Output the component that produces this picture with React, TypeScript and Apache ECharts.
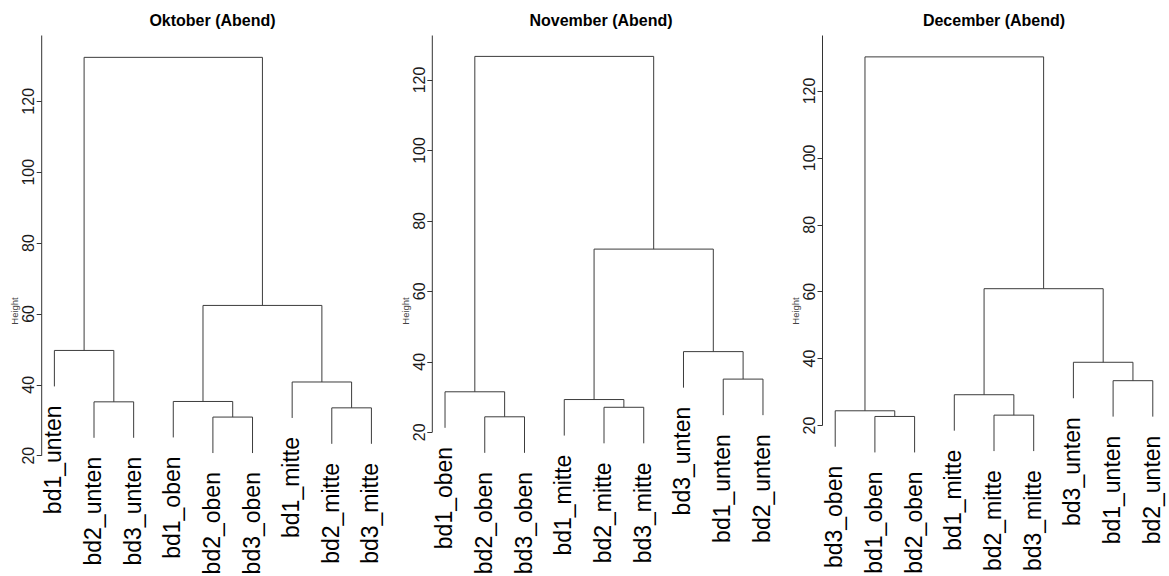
import React, { useEffect, useRef } from "react";
import * as echarts from "echarts";

// ---------- data ----------
const TITLES = ["Oktober (Abend)", "November (Abend)", "December (Abend)"];
const Y_LABEL = "Height";
const Y_MIN = 20;
const Y_MAX = 120;
const Y_STEP = 20;

// Leaf labels in plotting order
const LABELS_OKT = ["bd1_unten", "bd2_unten", "bd3_unten", "bd1_oben", "bd2_oben", "bd3_oben", "bd1_mitte", "bd2_mitte", "bd3_mitte"];
const LABELS_NOV = ["bd1_oben", "bd2_oben", "bd3_oben", "bd1_mitte", "bd2_mitte", "bd3_mitte", "bd3_unten", "bd1_unten", "bd2_unten"];
const LABELS_DEZ = ["bd3_oben", "bd1_oben", "bd2_oben", "bd1_mitte", "bd2_mitte", "bd3_mitte", "bd3_unten", "bd1_unten", "bd2_unten"];

// Merges (R hclust style): negative = leaf position (1-based), positive = earlier merge (1-based)
const MERGES_OKT = [[-5, -6], [-8, -9], [-2, -3], [-4, 1], [-7, 2], [-1, 3], [4, 5], [6, 7]];
const HEIGHTS_OKT = [30.9, 33.5, 35.2, 35.3, 40.8, 49.7, 62.4, 132.4];

const MERGES_NOV = [[-2, -3], [-5, -6], [-4, 2], [-1, 1], [-8, -9], [-7, 5], [3, 6], [4, 7]];
const HEIGHTS_NOV = [24.4, 27.1, 29.3, 31.5, 35.1, 42.9, 72.0, 126.7];

const MERGES_DEZ = [[-2, -3], [-5, -6], [-1, 1], [-4, 2], [-8, -9], [-7, 5], [4, 6], [3, 7]];
const HEIGHTS_DEZ = [22.7, 23.1, 24.4, 29.2, 33.4, 38.9, 60.9, 130.2];

// ---------- layout ----------
const PANELS = [
  { left: 41.7, width: 342.4, top: 101.3, height: 354.4, titleX: 212.5 },
  { left: 432.3, width: 343.4, top: 80, height: 352.3, titleX: 601 },
  { left: 822.5, width: 343, top: 91, height: 334.5, titleX: 994 },
];
const AXIS_TOP_PX = 35.5;
const FONT = "'Liberation Sans', Arial, Helvetica, sans-serif";
const LINE_COLOR = "#3c3c3c";

function buildTree(labels: string[], merges: number[][], heights: number[]) {
  const hang = 0.1 * (Math.max(...heights) - Math.min(...heights));
  const nodeX: number[] = [];
  const segs: number[][] = [];
  const leaves: { x: number; y: number; name: string }[] = [];
  const xOf = (c: number) => (c < 0 ? -c : nodeX[c - 1]);
  merges.forEach(([a, b], i) => {
    const h = heights[i];
    const xa = xOf(a);
    const xb = xOf(b);
    nodeX[i] = (xa + xb) / 2;
    [a, b].forEach((c) => {
      const x = xOf(c);
      const yb = c < 0 ? h - hang : heights[c - 1];
      segs.push([x, yb, x, h]);
      if (c < 0) leaves.push({ x, y: h - hang, name: labels[-c - 1] });
    });
    segs.push([xa, h, xb, h]);
  });
  return { segs, leaves };
}

const TREES = [
  buildTree(LABELS_OKT, MERGES_OKT, HEIGHTS_OKT),
  buildTree(LABELS_NOV, MERGES_NOV, HEIGHTS_NOV),
  buildTree(LABELS_DEZ, MERGES_DEZ, HEIGHTS_DEZ),
];

export default function App() {
  const ref = useRef<HTMLDivElement>(null);
  useEffect(() => {
    document.body.style.margin = "0";
    if (!ref.current) return;
    const chart = echarts.init(ref.current, null, { renderer: "svg" });
    const n = LABELS_OKT.length;
    const xMin = 1 - 0.04 * (n - 1);
    const xMax = n + 0.04 * (n - 1);

    const grid = PANELS.map((p) => ({
      left: p.left,
      top: p.top,
      width: p.width,
      height: p.height,
      containLabel: false,
      outerBoundsMode: "none",
    }));
    const xAxis = PANELS.map((_, i) => ({
      type: "value",
      gridIndex: i,
      min: xMin,
      max: xMax,
      show: false,
    }));
    const yAxis = PANELS.map((_, i) => ({
      type: "value",
      gridIndex: i,
      min: Y_MIN,
      max: Y_MAX,
      interval: Y_STEP,
      axisLine: { show: false },
      splitLine: { show: false },
      axisTick: { show: true, length: 5, lineStyle: { color: "#333", width: 1 } },
      axisLabel: {
        rotate: 90,
        fontSize: 16,
        color: "#1a1a1a",
        margin: 5,
        fontFamily: FONT,
        showMinLabel: true,
        showMaxLabel: true,
      },
    }));

    const series: any[] = [];
    TREES.forEach((tree, i) => {
      series.push({
        type: "custom",
        xAxisIndex: i,
        yAxisIndex: i,
        clip: false,
        silent: true,
        data: tree.segs,
        renderItem: (params: any, api: any) => {
          const p1 = api.coord([api.value(0), api.value(1)]);
          const p2 = api.coord([api.value(2), api.value(3)]);
          return {
            type: "line",
            shape: { x1: p1[0], y1: p1[1], x2: p2[0], y2: p2[1] },
            style: { stroke: LINE_COLOR, lineWidth: 1 },
          };
        },
      });
      // y axis line: from lowest tick to plot top
      series.push({
        type: "custom",
        xAxisIndex: i,
        yAxisIndex: i,
        clip: false,
        silent: true,
        data: [[xMin, Y_MIN]],
        renderItem: (params: any, api: any) => {
          const p = api.coord([api.value(0), api.value(1)]);
          return {
            type: "line",
            shape: { x1: p[0], y1: p[1], x2: p[0], y2: AXIS_TOP_PX },
            style: { stroke: "#333", lineWidth: 1 },
          };
        },
      });
      // leaf labels
      series.push({
        type: "custom",
        xAxisIndex: i,
        yAxisIndex: i,
        clip: false,
        silent: true,
        data: tree.leaves.map((l) => [l.x, l.y]),
        renderItem: (params: any, api: any) => {
          const p = api.coord([api.value(0), api.value(1)]);
          const leaf = tree.leaves[params.dataIndex];
          return {
            type: "text",
            x: p[0] - 1,
            y: p[1] + 19,
            rotation: Math.PI / 2,
            style: {
              text: leaf.name,
              fontSize: 23,
              fontFamily: FONT,
              fill: "#000",
              align: "right",
              verticalAlign: "middle",
              textAlign: "right",
              textVerticalAlign: "middle",
            },
          };
        },
      });
    });

    const graphic: any[] = [];
    PANELS.forEach((p, i) => {
      graphic.push({
        type: "text",
        x: p.titleX,
        y: 20.5,
        silent: true,
        style: {
          text: TITLES[i],
          fontSize: 16,
          fontWeight: "bold",
          fontFamily: FONT,
          fill: "#000",
          align: "center",
          verticalAlign: "middle",
          textAlign: "center",
          textVerticalAlign: "middle",
        },
      });
      graphic.push({
        type: "text",
        x: p.left - 27,
        y: 311,
        rotation: Math.PI / 2,
        silent: true,
        style: {
          text: Y_LABEL,
          fontSize: 9.5,
          fontFamily: FONT,
          fill: "#444",
          align: "center",
          verticalAlign: "middle",
          textAlign: "center",
          textVerticalAlign: "middle",
        },
      });
    });

    chart.setOption({
      animation: false,
      backgroundColor: "#fff",
      grid,
      xAxis,
      yAxis,
      series,
      graphic,
    });
    return () => chart.dispose();
  }, []);
  return <div ref={ref} style={{ width: 1169, height: 576 }} />;
}
